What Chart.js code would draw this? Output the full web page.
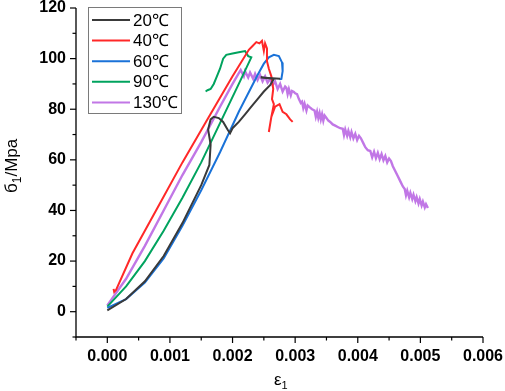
<!DOCTYPE html>
<html>
<head>
<meta charset="utf-8">
<script src="https://cdn.jsdelivr.net/npm/chart.js@4.4.1/dist/chart.umd.min.js"></script>
<style>
  html, body { margin: 0; padding: 0; background: #fff; }
  #wrap { width: 505px; height: 391px; }
</style>
</head>
<body>
<div id="wrap"><canvas id="chart" width="505" height="391"></canvas></div>
<script>
// stress-strain curves: [strain e1, stress (MPa)]
const seriesLabels = ['20℃', '40℃', '60℃', '90℃', '130℃'];
const seriesColors = ['#3a3a3a', '#ff2828', '#1a72d8', '#00a35e', '#c177e6'];

const curve20 = [
  [0, 0.5], [0.0003, 5], [0.0006, 12], [0.0009, 22], [0.0012, 35], [0.0015, 50],
  [0.00163, 58], [0.00165, 66], [0.00161, 72], [0.00165, 76], [0.0017, 77],
  [0.00178, 76.5], [0.00185, 75], [0.00192, 72], [0.00196, 70.5], [0.002, 72.5],
  [0.0021, 75], [0.0022, 78], [0.0023, 81], [0.0024, 84], [0.0025, 87],
  [0.0026, 89.5], [0.00266, 92], [0.00245, 92.5], [0.00276, 92]
];
const curve40 = [
  [0.0001, 9], [0.00011, 7.8], [0.00014, 8.6], [0.0004, 23], [0.0008, 41],
  [0.0012, 59], [0.0016, 76], [0.002, 93], [0.00226, 103.5], [0.00232, 105],
  [0.00238, 106.5], [0.00243, 106], [0.00247, 107], [0.0025, 103], [0.00252, 106],
  [0.00255, 104], [0.00255, 99], [0.00258, 96], [0.00262, 93], [0.00265, 88],
  [0.00263, 84], [0.00266, 82], [0.00262, 77], [0.00258, 71], [0.00262, 77],
  [0.00268, 81], [0.00275, 82], [0.0028, 79], [0.00286, 78], [0.00292, 76], [0.00296, 75]
];
const curve60 = [
  [0, 1.5], [0.0003, 5], [0.0006, 11.5], [0.0009, 21], [0.0012, 34], [0.0015, 48],
  [0.0018, 63], [0.0021, 79], [0.0024, 93.5], [0.0025, 98], [0.00258, 100.5],
  [0.00266, 101.5], [0.00274, 101], [0.00279, 98.5], [0.0028, 95], [0.00278, 92], [0.00275, 91.8]
];
const curve90 = [
  [0, 2], [0.0003, 10], [0.0006, 20], [0.0009, 32], [0.0012, 45], [0.0015, 59],
  [0.0018, 74.5], [0.0021, 90], [0.0023, 100.5], [0.00225, 101], [0.0022, 103],
  [0.0021, 102.5], [0.002, 102], [0.0019, 101.5], [0.00185, 100], [0.0018, 96],
  [0.00175, 93], [0.0017, 90], [0.00165, 88], [0.0016, 87.5], [0.00157, 87]
];
const curve130 = [
  [0, 2.5], [0.0003, 13], [0.0006, 26], [0.0009, 40], [0.0012, 54], [0.0015, 67],
  [0.0018, 81], [0.002, 90], [0.00213, 95.5], [0.00218, 93], [0.0022, 95],
  [0.00225, 92.5], [0.00228, 94.5], [0.00233, 92], [0.00236, 94], [0.0024, 91.5],
  [0.00244, 93.5], [0.00248, 91], [0.00252, 93], [0.00256, 90.5], [0.0026, 92],
  [0.00264, 89.5], [0.00268, 91], [0.00272, 88], [0.00276, 90], [0.0028, 87],
  [0.00284, 89], [0.00286, 88.5], [0.00288, 86], [0.0029, 88], [0.00293, 85.5],
  [0.00295, 87.2], [0.00298, 86.8], [0.003, 86.3], [0.00303, 86], [0.00306, 84],
  [0.00309, 82.5], [0.00311, 83], [0.00313, 80.5], [0.00315, 82.2], [0.00318, 79.5],
  [0.0032, 81.5], [0.00323, 80.8], [0.00327, 80], [0.00331, 79.5], [0.00333, 77],
  [0.00335, 79], [0.00337, 76.5], [0.00339, 78.5], [0.00341, 76], [0.00343, 78],
  [0.00345, 75.5], [0.00347, 77.5], [0.0035, 76.5], [0.00353, 75.5], [0.00356, 75],
  [0.0036, 74], [0.00364, 73.5], [0.00368, 73], [0.00372, 72.5], [0.00376, 72.3],
  [0.00378, 69.8], [0.0038, 72], [0.00383, 69.5], [0.00385, 71.5], [0.00388, 69],
  [0.0039, 71], [0.00393, 68.5], [0.00396, 70.3], [0.00399, 67.8], [0.00402, 69.5],
  [0.00405, 68.5], [0.00409, 66.5], [0.00412, 65], [0.00416, 63.8], [0.0042, 63.5],
  [0.00423, 61], [0.00426, 63.2], [0.00429, 60.7], [0.00432, 62.8], [0.00435, 60.3],
  [0.00438, 62.3], [0.00441, 59.8], [0.00444, 61.5], [0.00447, 59], [0.0045, 60.5],
  [0.00453, 59.5], [0.00456, 57.5], [0.0046, 55.5], [0.00464, 53.5], [0.00468, 51.5],
  [0.00472, 49.5], [0.00475, 48.5], [0.00477, 46], [0.00479, 47.8], [0.00482, 45.2],
  [0.00484, 47], [0.00487, 44.5], [0.00489, 46.2], [0.00492, 43.7], [0.00494, 45.3],
  [0.00497, 42.8], [0.00499, 44.5], [0.00502, 42], [0.00504, 43.5], [0.00507, 41.2],
  [0.00509, 42.5], [0.00512, 41]
];

// axis ranges / ticks
const xMin = -0.0005, xMax = 0.006, xStep = 0.0005, xLabelEvery = 0.001;
const yMin = -10, yMax = 120, yStep = 10, yLabelEvery = 20;

const curves = [curve20, curve40, curve60, curve90, curve130];
const FONT = '"Liberation Sans", Arial, sans-serif';

function isMultiple(v, step) {
  const r = v / step;
  return Math.abs(r - Math.round(r)) < 1e-6;
}

// ticks (major/minor), axis lines, axis titles and the boxed legend
const decorPlugin = {
  id: 'decor',
  afterDraw(chart) {
    const ctx = chart.ctx;
    const a = chart.chartArea;
    const xs = chart.scales.x, ys = chart.scales.y;
    ctx.save();
    ctx.strokeStyle = '#000';
    ctx.lineWidth = 1.3;
    ctx.beginPath();
    ctx.moveTo(a.left, a.top); ctx.lineTo(a.left, a.bottom); ctx.lineTo(a.right, a.bottom);
    ctx.stroke();

    ctx.lineWidth = 1.2;
    xs.ticks.forEach(t => {
      const px = xs.getPixelForValue(t.value);
      const len = (t.value >= 0 && isMultiple(t.value, xLabelEvery)) ? 6 : 3.5;
      ctx.beginPath(); ctx.moveTo(px, a.bottom); ctx.lineTo(px, a.bottom + len); ctx.stroke();
    });
    ys.ticks.forEach(t => {
      const py = ys.getPixelForValue(t.value);
      const len = (t.value >= 0 && isMultiple(t.value, yLabelEvery)) ? 6 : 3.5;
      ctx.beginPath(); ctx.moveTo(a.left, py); ctx.lineTo(a.left - len, py); ctx.stroke();
    });

    // x title: ε with subscript 1
    ctx.fillStyle = '#000';
    ctx.textBaseline = 'alphabetic';
    ctx.textAlign = 'left';
    ctx.font = '17px ' + FONT;
    const ex = 274, ey = 385;
    ctx.fillText('ε', ex, ey);
    const ew = ctx.measureText('ε').width;
    ctx.font = '11px ' + FONT;
    ctx.fillText('1', ex + ew, ey + 4);

    // y title, rotated
    ctx.save();
    ctx.translate(17, 193);
    ctx.rotate(-Math.PI / 2);
    ctx.font = '17px ' + FONT;
    ctx.fillText('б', 0, 0);
    let off = ctx.measureText('б').width;
    ctx.font = '12px ' + FONT;
    ctx.fillText('1', off, 4);
    off += ctx.measureText('1').width;
    ctx.font = '17px ' + FONT;
    ctx.fillText('/Mpa', off, 0);
    ctx.restore();

    // legend box
    const bx = 88.5, by = 7.5, bw = 93, bh = 106, rowH = 20.6;
    ctx.fillStyle = '#fff';
    ctx.fillRect(bx, by, bw, bh);
    ctx.strokeStyle = '#7a7a7a';
    ctx.lineWidth = 1;
    ctx.strokeRect(bx, by, bw, bh);
    ctx.font = '17px ' + FONT;
    ctx.textBaseline = 'middle';
    seriesLabels.forEach((lab, i) => {
      const ry = 20 + i * rowH;
      ctx.strokeStyle = seriesColors[i];
      ctx.lineWidth = 2;
      ctx.beginPath(); ctx.moveTo(92, ry); ctx.lineTo(130, ry); ctx.stroke();
      ctx.fillStyle = '#000';
      ctx.fillText(lab, 133, ry + 1);
    });
    ctx.restore();
  }
};

new Chart(document.getElementById('chart'), {
  type: 'scatter',
  data: {
    datasets: curves.map((c, i) => ({
      label: seriesLabels[i],
      data: c.map(p => ({ x: p[0], y: p[1] })),
      showLine: true,
      borderColor: seriesColors[i],
      backgroundColor: seriesColors[i],
      borderWidth: i === 4 ? 2.4 : 2,
      pointRadius: 0,
      tension: 0
    }))
  },
  options: {
    responsive: false,
    animation: false,
    layout: { padding: { left: 0, right: 22, top: 8, bottom: 0 } },
    plugins: { legend: { display: false }, tooltip: { enabled: false } },
    scales: {
      x: {
        type: 'linear',
        min: xMin, max: xMax,
        grid: { display: false, drawTicks: false },
        border: { display: false },
        afterFit: s => { s.height = 54; s.paddingLeft = 0; s.paddingRight = 0; },
        ticks: {
          stepSize: xStep,
          autoSkip: false,
          maxRotation: 0,
          padding: 10,
          color: '#000',
          font: { family: FONT, size: 16, weight: 'bold' },
          callback: v => (v >= 0 && isMultiple(v, xLabelEvery)) ? v.toFixed(3) : ''
        }
      },
      y: {
        type: 'linear',
        min: yMin, max: yMax,
        grid: { display: false, drawTicks: false },
        border: { display: false },
        afterFit: s => { s.width = 76; s.paddingTop = 0; s.paddingBottom = 0; },
        ticks: {
          stepSize: yStep,
          autoSkip: false,
          padding: 10,
          color: '#000',
          font: { family: FONT, size: 16, weight: 'bold' },
          callback: v => (v >= 0 && isMultiple(v, yLabelEvery)) ? String(v) : ''
        }
      }
    }
  },
  plugins: [decorPlugin]
});
</script>
</body>
</html>
